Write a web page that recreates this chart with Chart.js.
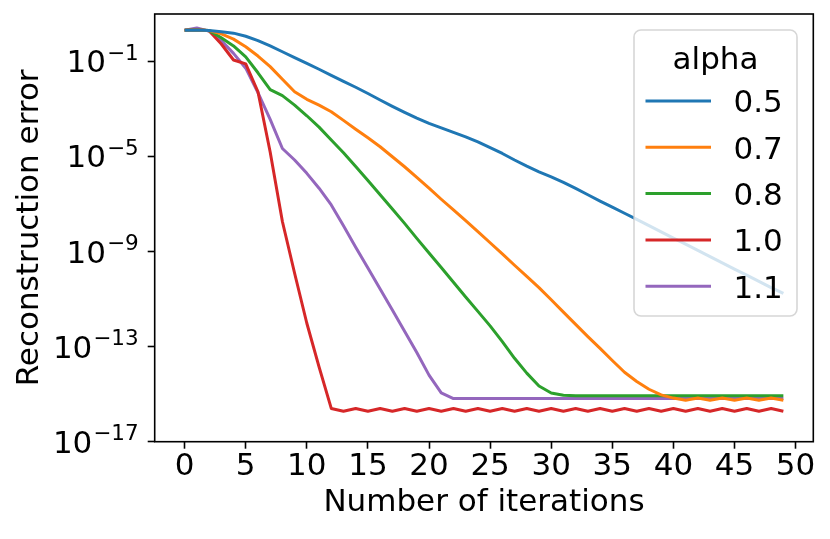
<!DOCTYPE html>
<html>
<head>
<meta charset="utf-8">
<script src="https://cdn.jsdelivr.net/npm/chart.js@4"></script>
<style>
html,body{margin:0;padding:0;background:#ffffff;}
#wrap{width:830px;height:539px;}
</style>
</head>
<body>
<div id="wrap"><canvas id="c" width="830" height="539"></canvas></div>
<script>
// ---- data ----
const iterations = [0,1,2,3,4,5,6,7,8,9,10,11,12,13,14,15,16,17,18,19,20,21,22,23,24,25,26,27,28,29,30,31,32,33,34,35,36,37,38,39,40,41,42,43,44,45,46,47,48,49];

const alpha05 = [1.95,2.0,1.9,1.7,1.48,1.1,0.72,0.43,0.245,0.138,0.079,0.045,0.025,0.014,7.9e-3,4.3e-3,2.3e-3,1.25e-3,7.0e-4,4.0e-4,2.4e-4,1.55e-4,1.0e-4,6.5e-5,4.0e-5,2.3e-5,1.3e-5,6.9e-6,3.8e-6,2.2e-6,1.35e-6,7.9e-7,4.4e-7,2.4e-7,1.3e-7,7.2e-8,4.0e-8,2.2e-8,1.2e-8,6.6e-9,3.6e-9,2.0e-9,1.1e-9,6.0e-10,3.3e-10,1.8e-10,1.0e-10,5.5e-11,3.0e-11,1.7e-11];

const alpha07 = [1.95,2.0,1.9,1.38,0.83,0.4,0.162,0.058,0.017,5.1e-3,2.45e-3,1.4e-3,7.4e-4,3.2e-4,1.35e-4,5.9e-5,2.5e-5,9.5e-6,3.6e-6,1.3e-6,4.5e-7,1.55e-7,5.5e-8,1.95e-8,6.8e-9,2.3e-9,7.9e-10,2.6e-10,8.9e-11,3.0e-11,9.3e-12,2.8e-12,8.5e-13,2.6e-13,8.3e-14,2.6e-14,8.3e-15,3.4e-15,1.6e-15,9.3e-16,6.8e-16,5.5e-16,6.8e-16,5.5e-16,6.8e-16,5.5e-16,6.8e-16,5.5e-16,6.8e-16,5.5e-16];

const alpha08 = [1.95,2.0,1.9,0.95,0.43,0.15,0.032,6.3e-3,3.5e-3,1.4e-3,5.0e-4,1.66e-4,4.8e-5,1.4e-5,3.7e-6,9.5e-7,2.4e-7,6.0e-8,1.5e-8,3.5e-9,8.5e-10,2.1e-10,5.0e-11,1.2e-11,3.0e-12,7.4e-13,1.6e-13,3.2e-14,7.6e-15,2.2e-15,1.12e-15,8.9e-16,8.5e-16,8.5e-16,8.5e-16,8.5e-16,8.5e-16,8.5e-16,8.5e-16,8.5e-16,8.5e-16,8.5e-16,8.5e-16,8.5e-16,8.5e-16,8.5e-16,8.5e-16,8.5e-16,8.5e-16,8.5e-16];

const alpha10 = [1.95,2.1,1.86,0.52,0.11,0.076,5.1e-3,1.5e-5,1.8e-8,1.2e-10,9.5e-13,1.4e-14,2.5e-16,1.9e-16,2.5e-16,1.9e-16,2.5e-16,1.9e-16,2.5e-16,1.9e-16,2.5e-16,1.9e-16,2.5e-16,1.9e-16,2.5e-16,1.9e-16,2.5e-16,1.9e-16,2.5e-16,1.9e-16,2.5e-16,1.9e-16,2.5e-16,1.9e-16,2.5e-16,1.9e-16,2.5e-16,1.9e-16,2.5e-16,1.9e-16,2.5e-16,1.9e-16,2.5e-16,1.9e-16,2.5e-16,1.9e-16,2.5e-16,1.9e-16,2.5e-16,1.9e-16];

const alpha11 = [1.95,2.45,1.8,0.72,0.21,0.05,4.7e-3,3.5e-4,2.1e-5,6.9e-6,1.9e-6,4.5e-7,8.9e-8,1.2e-8,1.5e-9,2.0e-10,2.6e-11,3.4e-12,4.4e-13,5.6e-14,6.3e-15,1.12e-15,6.5e-16,6.5e-16,6.5e-16,6.5e-16,6.5e-16,6.5e-16,6.5e-16,6.5e-16,6.5e-16,6.5e-16,6.5e-16,6.5e-16,6.5e-16,6.5e-16,6.5e-16,6.5e-16,6.5e-16,6.5e-16,6.5e-16,6.5e-16,6.5e-16,6.5e-16,6.5e-16,6.5e-16,6.5e-16,6.5e-16,6.5e-16,6.5e-16];

const seriesLabels = ['0.5','0.7','0.8','1.0','1.1'];
const seriesColors = ['#1f77b4','#ff7f0e','#2ca02c','#d62728','#9467bd'];
const xTicks = [0,5,10,15,20,25,30,35,40,45,50];
const yTicks = [1e-17,1e-13,1e-9,1e-5,1e-1];
const xTitle = 'Number of iterations';
const yTitle = 'Reconstruction error';
const legendTitle = 'alpha';

// ---- chart ----
const FONT = '"DejaVu Sans", sans-serif';
const FS = 31;
Chart.defaults.font.family = FONT;
Chart.defaults.color = '#000';

const allSeries = [alpha05, alpha07, alpha08, alpha10, alpha11];
const datasets = allSeries.map((vals, k) => ({
  label: seriesLabels[k],
  data: iterations.map((it, j) => ({x: it, y: vals[j]})),
  borderColor: seriesColors[k],
  backgroundColor: seriesColors[k],
  borderWidth: 3,
  pointRadius: 0,
  tension: 0,
  fill: false,
  borderJoinStyle: 'round',
  borderCapStyle: 'butt'
}));

const tickGrid = {display: true, drawOnChartArea: false, drawTicks: true, tickLength: 7, tickWidth: 1.6, tickColor: '#000'};

const overlay = {
  id: 'overlay',
  afterDraw(chart) {
    const {ctx, chartArea: a, scales} = chart;
    ctx.save();
    // y tick labels as 10^n
    const ys = scales.y;
    ctx.fillStyle = '#000';
    ys.ticks.forEach(t => {
      const py = ys.getPixelForValue(t.value);
      const exp = Math.round(Math.log10(t.value));
      const expStr = (exp < 0 ? '\u2212' : '') + Math.abs(exp);
      const right = a.left - 16;
      ctx.textAlign = 'right';
      ctx.textBaseline = 'alphabetic';
      ctx.font = '21.5px ' + FONT;
      const ew = ctx.measureText(expStr).width;
      ctx.fillText(expStr, right, py - 1.5);
      ctx.font = FS + 'px ' + FONT;
      ctx.fillText('10', right - ew - 1, py + 11.3);
    });
    // frame (all four spines)
    ctx.lineWidth = 1.6;
    ctx.strokeStyle = '#000';
    ctx.strokeRect(a.left, a.top, a.right - a.left, a.bottom - a.top);

    // legend
    const lx = 634, ly = 30, lw = 163, lh = 286, r = 7;
    ctx.beginPath();
    ctx.moveTo(lx + r, ly);
    ctx.arcTo(lx + lw, ly, lx + lw, ly + lh, r);
    ctx.arcTo(lx + lw, ly + lh, lx, ly + lh, r);
    ctx.arcTo(lx, ly + lh, lx, ly, r);
    ctx.arcTo(lx, ly, lx + lw, ly, r);
    ctx.closePath();
    ctx.fillStyle = 'rgba(255,255,255,0.8)';
    ctx.fill();
    ctx.lineWidth = 1.6;
    ctx.strokeStyle = 'rgba(204,204,204,0.8)';
    ctx.stroke();

    ctx.fillStyle = '#000';
    ctx.font = FS + 'px ' + FONT;
    ctx.textAlign = 'center';
    ctx.textBaseline = 'alphabetic';
    ctx.fillText(legendTitle, lx + lw / 2, 68.5);
    ctx.textAlign = 'left';
    chart.data.datasets.forEach((ds, k) => {
      const yy = 101 + k * 46.3;
      ctx.beginPath();
      ctx.moveTo(645.5, yy);
      ctx.lineTo(711, yy);
      ctx.lineWidth = 3;
      ctx.strokeStyle = ds.borderColor;
      ctx.stroke();
      ctx.fillStyle = '#000';
      ctx.fillText(ds.label, 733.5, yy + 11.3);
    });
    ctx.restore();
  }
};

new Chart(document.getElementById('c'), {
  type: 'line',
  data: {datasets},
  options: {
    responsive: false,
    animation: false,
    devicePixelRatio: 1,
    layout: {padding: {left: 0, top: 14, right: 16.7, bottom: 0}},
    plugins: {legend: {display: false}, tooltip: {enabled: false}},
    scales: {
      x: {
        type: 'linear',
        min: -2.45,
        max: 51.45,
        afterBuildTicks: s => { s.ticks = xTicks.map(v => ({value: v})); },
        afterFit: s => { s.height = 97.3; },
        ticks: {color: '#000', font: {size: FS}, padding: 0, maxRotation: 0, autoSkip: false},
        grid: tickGrid,
        border: {display: false},
        title: {display: true, text: xTitle, color: '#000', font: {size: FS}, padding: {top: 0, bottom: 17.4}}
      },
      y: {
        type: 'logarithmic',
        min: 1e-17,
        max: 9.46,
        afterBuildTicks: s => { s.ticks = yTicks.map(v => ({value: v})); },
        afterFit: s => { s.width = 154.7; },
        ticks: {callback: () => '', autoSkip: false},
        grid: tickGrid,
        border: {display: false},
        title: {display: true, text: yTitle, color: '#000', font: {size: FS}, padding: {top: 11.4, bottom: 0}}
      }
    }
  },
  plugins: [overlay]
});
</script>
</body>
</html>
